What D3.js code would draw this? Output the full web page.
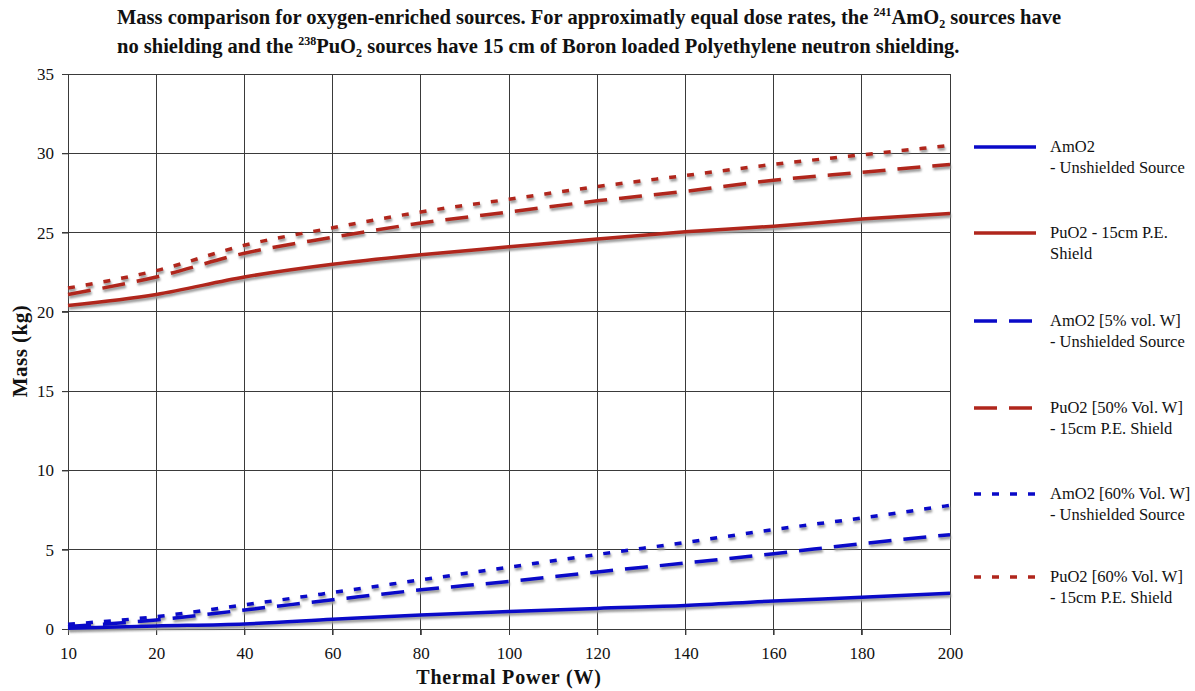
<!DOCTYPE html>
<html>
<head>
<meta charset="utf-8">
<script src="https://cdn.jsdelivr.net/npm/d3@7"></script>
<style>
  html, body { margin: 0; padding: 0; background: #fff; }
  svg { display: block; }
  text { font-family: "Liberation Serif", "DejaVu Serif", serif; fill: #111; }
</style>
</head>
<body>
<svg id="chart" width="1195" height="691"></svg>
<script>
// Thermal power categories (evenly spaced on the axis)
const powers = [10, 20, 40, 60, 80, 100, 120, 140, 160, 180, 200];
const yTicks = [0, 5, 10, 15, 20, 25, 30, 35];

// Mass (kg) for each source configuration
const amO2 = [0.05, 0.19, 0.32, 0.61, 0.89, 1.1, 1.3, 1.48, 1.77, 2.0, 2.26];
const puO2 = [20.4, 21.1, 22.2, 23.0, 23.6, 24.1, 24.6, 25.05, 25.4, 25.85, 26.2];
const amO2W5 = [0.15, 0.57, 1.2, 1.84, 2.47, 3.0, 3.6, 4.16, 4.75, 5.38, 5.95];
const puO2W50 = [21.1, 22.2, 23.7, 24.7, 25.6, 26.3, 27.0, 27.6, 28.3, 28.8, 29.3];
const amO2W60 = [0.3, 0.78, 1.52, 2.3, 3.1, 3.9, 4.7, 5.46, 6.27, 7.0, 7.8];
const puO2W60 = [21.5, 22.6, 24.2, 25.3, 26.3, 27.1, 27.9, 28.6, 29.3, 29.9, 30.5];

const seriesNames = [
  ["AmO2", "- Unshielded Source"],
  ["PuO2 - 15cm P.E.", "Shield"],
  ["AmO2 [5% vol. W]", "- Unshielded Source"],
  ["PuO2 [50% Vol. W]", "- 15cm P.E. Shield"],
  ["AmO2 [60% Vol. W]", "- Unshielded Source"],
  ["PuO2 [60% Vol. W]", "- 15cm P.E. Shield"]
];

const BLUE = "#0a0ac8";
const RED = "#b0261c";

const series = [
  { values: amO2, color: BLUE, dash: null },
  { values: puO2, color: RED, dash: null },
  { values: amO2W5, color: BLUE, dash: "23,12" },
  { values: puO2W50, color: RED, dash: "23,12" },
  { values: amO2W60, color: BLUE, dash: "7,11" },
  { values: puO2W60, color: RED, dash: "7,11" }
];

const svg = d3.select("#chart");
const margin = { left: 68, right: 950, top: 74, bottom: 629 };

const x = d3.scalePoint().domain(powers).range([margin.left, margin.right]);
const y = d3.scaleLinear().domain([0, 35]).range([margin.bottom, margin.top]);

// soft shadow under each curve
const defs = svg.append("defs");
defs.append("filter").attr("id", "soft")
  .append("feGaussianBlur").attr("stdDeviation", 0.8);

// Title
const title = svg.append("g").attr("font-weight", "bold").attr("font-size", 20.5);
const t1 = title.append("text").attr("x", 117).attr("y", 24);
t1.append("tspan").text("Mass comparison for oxygen-enriched sources. For approximatly equal dose rates, the ");
t1.append("tspan").attr("font-size", 12).attr("dy", -8).text("241");
t1.append("tspan").attr("dy", 8).text("AmO");
t1.append("tspan").attr("font-size", 12).attr("dy", 4).text("2");
t1.append("tspan").attr("dy", -4).text(" sources have");
const t2 = title.append("text").attr("x", 117).attr("y", 53);
t2.append("tspan").text("no shielding and the ");
t2.append("tspan").attr("font-size", 12).attr("dy", -8).text("238");
t2.append("tspan").attr("dy", 8).text("PuO");
t2.append("tspan").attr("font-size", 12).attr("dy", 4).text("2");
t2.append("tspan").attr("dy", -4).text(" sources have 15 cm of Boron loaded Polyethylene neutron shielding.");

// Grid
const grid = svg.append("g").attr("stroke", "#3a3a3a").attr("stroke-width", 1).attr("shape-rendering", "crispEdges");
grid.selectAll("line.h").data(yTicks).join("line")
  .attr("x1", margin.left - 6).attr("x2", margin.right)
  .attr("y1", d => y(d)).attr("y2", d => y(d));
grid.selectAll("line.v").data(powers).join("line")
  .attr("x1", d => x(d)).attr("x2", d => x(d))
  .attr("y1", margin.top).attr("y2", margin.bottom + 6);

// Tick labels from d3 axes (grid lines drawn separately)
const yAxis = svg.append("g").attr("transform", `translate(${margin.left},0)`)
  .call(d3.axisLeft(y).tickValues(yTicks).tickSize(6).tickPadding(8));
const xAxis = svg.append("g").attr("transform", `translate(0,${margin.bottom})`)
  .call(d3.axisBottom(x).tickSize(6).tickPadding(12));
[yAxis, xAxis].forEach(a => {
  a.select(".domain").remove();
  a.selectAll(".tick line").attr("stroke", "#3a3a3a");
  a.selectAll(".tick text").attr("font-family", "Liberation Serif, serif")
    .attr("font-size", 17).attr("fill", "#111");
});

svg.append("text")
  .attr("transform", `translate(27,${351}) rotate(-90)`)
  .attr("text-anchor", "middle").attr("font-weight", "bold").attr("font-size", 21)
  .attr("letter-spacing", 0.5)
  .text("Mass (kg)");
svg.append("text")
  .attr("x", (margin.left + margin.right) / 2).attr("y", 684)
  .attr("text-anchor", "middle").attr("font-weight", "bold").attr("font-size", 20)
  .attr("letter-spacing", 0.8)
  .text("Thermal Power (W)");

// Curves
const line = d3.line()
  .x((d, i) => x(powers[i]))
  .y(d => y(d))
  .curve(d3.curveMonotoneX);

const curves = svg.append("g");
series.forEach(s => {
  curves.append("path")
    .attr("d", line(s.values))
    .attr("fill", "none").attr("stroke", "#999").attr("stroke-width", 3.5)
    .attr("stroke-dasharray", s.dash)
    .attr("transform", "translate(1,2.5)")
    .attr("filter", "url(#soft)");
});
series.forEach(s => {
  curves.append("path")
    .attr("d", line(s.values))
    .attr("fill", "none").attr("stroke", s.color).attr("stroke-width", 3.5)
    .attr("stroke-dasharray", s.dash);
});

// Legend
const legendY = [147, 233, 321, 408, 494, 577];
const legend = svg.append("g");
series.forEach((s, i) => {
  const g = legend.append("g").attr("transform", `translate(0,${legendY[i]})`);
  g.append("line").attr("x1", 974).attr("x2", 1036).attr("y1", 0).attr("y2", 0)
    .attr("stroke", s.color).attr("stroke-width", 3.5)
    .attr("stroke-dasharray", s.dash);
  g.append("text").attr("x", 1050).attr("y", 5).attr("font-size", 16.5).text(seriesNames[i][0]);
  g.append("text").attr("x", 1050).attr("y", 26).attr("font-size", 16.5).text(seriesNames[i][1]);
});
</script>
</body>
</html>
